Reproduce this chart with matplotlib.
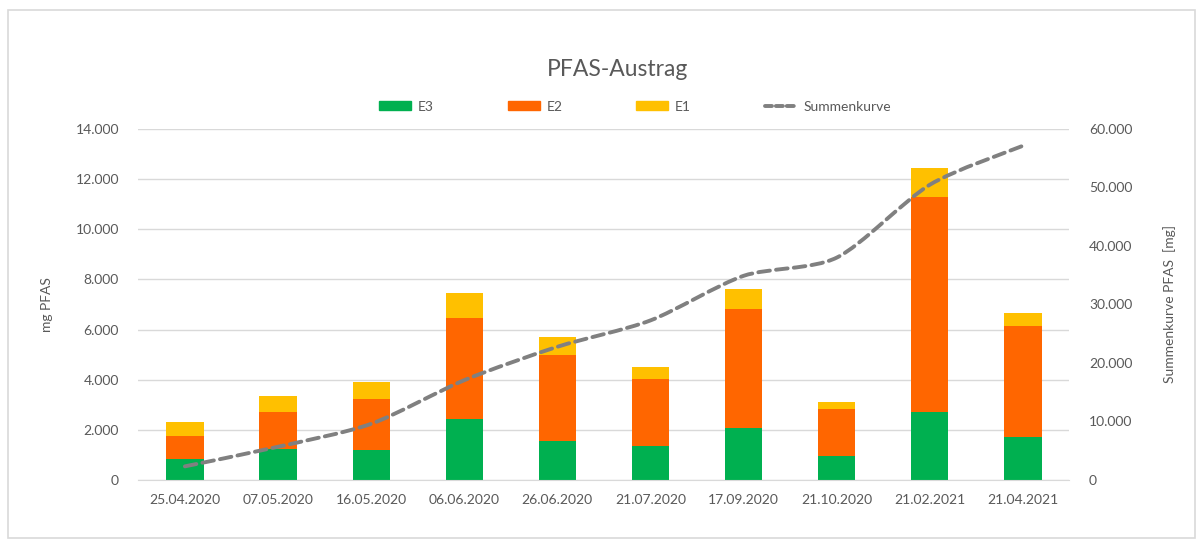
import numpy as np
import matplotlib.pyplot as plt
from matplotlib.path import Path
from matplotlib.patches import PathPatch, Rectangle, Patch
from matplotlib.lines import Line2D
from matplotlib.ticker import FuncFormatter, MultipleLocator

plt.rcParams['font.family'] = ['Lato', 'DejaVu Sans']

dates = ['25.04.2020', '07.05.2020', '16.05.2020', '06.06.2020', '26.06.2020',
         '21.07.2020', '17.09.2020', '21.10.2020', '21.02.2021', '21.04.2021']
e3 = [826, 1237, 1185, 2422, 1544, 1369, 2087, 958, 2725, 1704]
e2 = [942, 1488, 2047, 4042, 3444, 2641, 4736, 1875, 8555, 4440]
e1 = [558, 626, 690, 985, 718, 511, 786, 279, 1181, 519]
summe = [2330, 5680, 9600, 17060, 22770, 27280, 34900, 38010, 50470, 57130]

c_e3 = '#00b050'
c_e2 = '#ff6600'
c_e1 = '#ffc000'
c_line = '#808080'
c_txt = '#595959'
c_grid = '#d9d9d9'


def de_fmt(v, pos):
    return f"{int(round(v)):,}".replace(",", ".")


fig = plt.figure(figsize=(12.03, 5.42), dpi=100)
ax = fig.add_axes([0.115, 0.1144, 0.774, 0.6476])
ax2 = ax.twinx()

x = np.arange(len(dates))
w = 0.40
b2 = np.array(e3)
b1 = b2 + np.array(e2)
ax.bar(x, e3, w, color=c_e3, zorder=2)
ax.bar(x, e2, w, bottom=b2, color=c_e2, zorder=2)
ax.bar(x, e1, w, bottom=b1, color=c_e1, zorder=2)

# geglaettete Summenkurve (Catmull-Rom -> Bezier, etwas flacher)
ys = np.array(summe, dtype=float)
pts = np.column_stack([x, ys])
verts = [pts[0]]
codes = [Path.MOVETO]
n = len(pts)
k = 7.5
for i in range(n - 1):
    p0 = pts[i - 1] if i > 0 else pts[i]
    p1 = pts[i]
    p2 = pts[i + 1]
    p3 = pts[i + 2] if i + 2 < n else pts[i + 1]
    verts += [p1 + (p2 - p0) / k, p2 - (p3 - p1) / k, p2]
    codes += [Path.CURVE4] * 3
curve = PathPatch(Path(verts, codes), facecolor='none', edgecolor=c_line,
                  lw=2.8, linestyle=(0, (3, 1.6)), capstyle='round', zorder=3)
ax2.add_patch(curve)

ax.set_xlim(-0.5, len(dates) - 0.5)
ax.set_ylim(0, 14000)
ax2.set_ylim(0, 60000)
ax.yaxis.set_major_locator(MultipleLocator(2000))
ax2.yaxis.set_major_locator(MultipleLocator(10000))
ax.yaxis.set_major_formatter(FuncFormatter(de_fmt))
ax2.yaxis.set_major_formatter(FuncFormatter(de_fmt))
ax.set_xticks(x)
ax.set_xticklabels(dates)

ax.grid(axis='y', color=c_grid, lw=1, zorder=0)
ax.set_axisbelow(True)
for a in (ax, ax2):
    for s in a.spines.values():
        s.set_visible(False)
    a.tick_params(length=0, colors=c_txt, labelsize=10)
ax.spines['bottom'].set_visible(True)
ax.spines['bottom'].set_color(c_grid)
ax.tick_params(axis='x', pad=10)
ax.tick_params(axis='y', pad=14)
ax2.tick_params(axis='y', pad=14)

ax.set_ylabel('mg PFAS', color=c_txt, fontsize=10, labelpad=16)
ax2.set_ylabel('Summenkurve PFAS  [mg]', color=c_txt, fontsize=10, labelpad=22)

fig.text(0.513, 0.871, 'PFAS-Austrag', ha='center', va='center',
         fontsize=16.5, color=c_txt)

handles = [Patch(color=c_e3), Patch(color=c_e2), Patch(color=c_e1),
           Line2D([], [], color=c_line, lw=2.8, linestyle=(0, (1.8, 1.0)),
                  dash_capstyle='round')]
fig.legend(handles, ['E3', 'E2', 'E1', 'Summenkurve'], loc='center',
           bbox_to_anchor=(0.528, 0.803), ncol=4, frameon=False,
           fontsize=10, labelcolor=c_txt, handlelength=2.3, handleheight=0.6,
           columnspacing=5.3, handletextpad=0.5)

fig.patches.append(Rectangle((8 / 1203, 4 / 542), 1187 / 1203, 528 / 542,
                             transform=fig.transFigure, fill=False,
                             edgecolor=c_grid, lw=1.2))

fig.savefig('out.png', dpi=100, facecolor='white')
